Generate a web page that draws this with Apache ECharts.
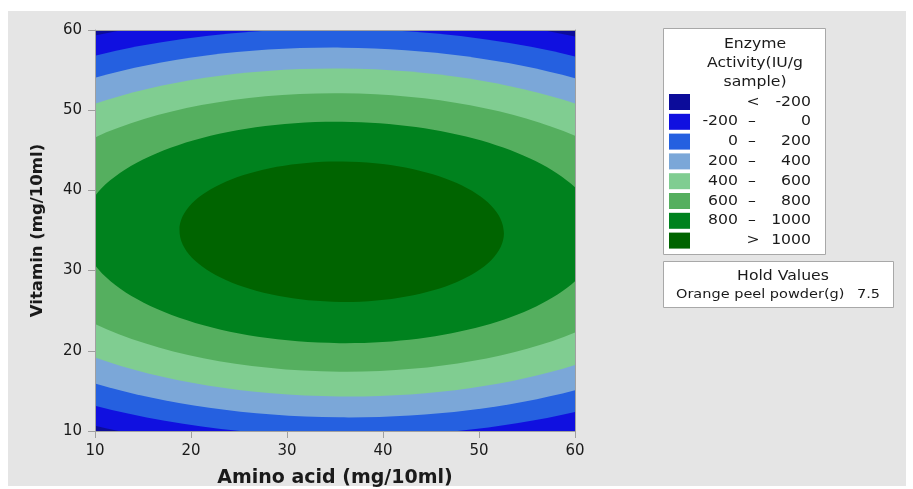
<!DOCTYPE html>
<html>
<head>
<meta charset="utf-8">
<script src="https://cdn.jsdelivr.net/npm/echarts@6/dist/echarts.min.js"></script>
<style>
  html, body { margin: 0; padding: 0; background: #ffffff; }
  #wrap { position: relative; width: 913px; height: 489px; }
  #panel { position: absolute; left: 8px; top: 11px; width: 898px; height: 475px; background: #E5E5E5; }
  #chart { position: absolute; left: 0; top: 0; width: 913px; height: 489px; }
</style>
</head>
<body>
<div id="wrap"><div id="panel"></div><div id="chart"></div></div>
<script>
// Axis tick values
const aminoTicks = [10, 20, 30, 40, 50, 60];
const vitaminTicks = [10, 20, 30, 40, 50, 60];

// Contours of enzyme activity (IU/g sample); each level is a closed ellipse
// around the optimum, given by its centre and half-axes in axis units
const contourLevels = [-200, 0, 200, 400, 600, 800, 1000];
const contourCenterAmino = [35.6, 35.6, 35.6, 35.6, 35.6, 35.6, 35.7];
const contourCenterVitamin = [34.75, 34.75, 34.75, 34.75, 34.75, 34.75, 34.85];
const contourHalfWidth = [54.5, 50.0, 45.5, 40.4, 34.5, 26.95, 16.9];
const contourHalfHeight = [27.55, 25.4, 23.05, 20.45, 17.35, 13.8, 8.75];
const contourTilt = -0.009; // slight slant of the contour axes (radians)

// Band colours from lowest (< -200) to highest (> 1000)
const bandColors = ['#0C0C9A', '#1010E0', '#2560E0', '#7BA7D8', '#80CD91', '#55AF5F', '#00821E', '#006400'];

const legendTitle = ['Enzyme', 'Activity(IU/g', 'sample)'];
const holdTitle = 'Hold Values';
const holdFactor = 'Orange peel powder(g)';
const holdValue = '7.5';

const FONT = '"DejaVu Sans", "Noto Sans", sans-serif';
const TEXT = '#1A1A1A';
const AXIS = '#A0A0A0';
const WIDEN = 1.16; // legend lettering is set slightly wide

const chart = echarts.init(document.getElementById('chart'), null, { renderer: 'canvas' });

const contourData = contourLevels.map((lvl, i) => [
  contourCenterAmino[i], contourCenterVitamin[i], contourHalfWidth[i] * 2, contourHalfHeight[i] * 2, lvl
]);

// Legend panel
const graphics = [];
function label(s, x, y, align, size) {
  graphics.push({
    type: 'text', x: x, y: y, scaleX: WIDEN, silent: true,
    style: { x: 0, y: 0, text: s, textAlign: align, align: align,
             textVerticalAlign: 'middle', verticalAlign: 'middle',
             font: (size || 13.5) + 'px ' + FONT, fill: TEXT }
  });
}
const lgX = 663, lgY = 28, lgW = 162, lgH = 226;
graphics.push({ type: 'rect', shape: { x: lgX + 0.5, y: lgY + 0.5, width: lgW, height: lgH },
  style: { fill: '#ffffff', stroke: '#A8A8A8', lineWidth: 1 }, silent: true });
legendTitle.forEach((t, i) => label(t, 755, 44 + i * 19.4, 'center'));

const rowCount = contourLevels.length + 1;
for (let r = 0; r < rowCount; r++) {
  const cy = 102 + r * 19.8;
  graphics.push({ type: 'rect', shape: { x: 669, y: cy - 8, width: 21, height: 16 },
    style: { fill: bandColors[r] }, silent: true });
  if (r === 0) {
    label('<', 753, cy, 'center');
    label(String(contourLevels[0]), 811, cy, 'right');
  } else if (r === rowCount - 1) {
    label('>', 753, cy, 'center');
    label(String(contourLevels[contourLevels.length - 1]), 811, cy, 'right');
  } else {
    label(String(contourLevels[r - 1]), 738, cy, 'right');
    label('\u2013', 752, cy, 'center');
    label(String(contourLevels[r]), 811, cy, 'right');
  }
}
// Hold values panel
graphics.push({ type: 'rect', shape: { x: 663.5, y: 261.5, width: 230, height: 46 },
  style: { fill: '#ffffff', stroke: '#A8A8A8', lineWidth: 1 }, silent: true });
label(holdTitle, 783, 276, 'center');
label(holdFactor, 676, 295, 'left', 12.5);
label(holdValue, 880, 295, 'right', 12.5);

const axisCommon = {
  type: 'value',
  axisLine: { show: true, onZero: false, lineStyle: { color: AXIS, width: 1 } },
  splitLine: { show: false },
  z: 5
};

chart.setOption({
  animation: false,
  grid: { left: 95, top: 30, width: 480, height: 401, show: true,
          outerBoundsMode: 'none', containLabel: false,
          backgroundColor: bandColors[0], borderWidth: 0 },
  xAxis: [
    Object.assign({}, axisCommon, {
      position: 'bottom',
      min: aminoTicks[0], max: aminoTicks[aminoTicks.length - 1], interval: aminoTicks[1] - aminoTicks[0],
      axisTick: { show: true, length: 7, lineStyle: { color: AXIS } },
      axisLabel: { color: TEXT, fontSize: 15, fontFamily: FONT, margin: 13 },
      name: 'Amino acid (mg/10ml)', nameLocation: 'middle', nameGap: 38,
      nameTextStyle: { color: TEXT, fontSize: 19, fontWeight: 'bold', fontFamily: FONT }
    }),
    Object.assign({}, axisCommon, {
      position: 'top',
      min: aminoTicks[0], max: aminoTicks[aminoTicks.length - 1], interval: aminoTicks[1] - aminoTicks[0],
      axisTick: { show: false }, axisLabel: { show: false }
    })
  ],
  yAxis: [
    Object.assign({}, axisCommon, {
      position: 'left',
      min: vitaminTicks[0], max: vitaminTicks[vitaminTicks.length - 1], interval: vitaminTicks[1] - vitaminTicks[0],
      axisTick: { show: true, length: 7, lineStyle: { color: AXIS } },
      axisLabel: { color: TEXT, fontSize: 15, fontFamily: FONT, margin: 13 },
      name: 'Vitamin (mg/10ml)', nameLocation: 'middle', nameGap: 49,
      nameTextStyle: { color: TEXT, fontSize: 16.5, fontWeight: 'bold', fontFamily: FONT }
    }),
    Object.assign({}, axisCommon, {
      position: 'right',
      min: vitaminTicks[0], max: vitaminTicks[vitaminTicks.length - 1], interval: vitaminTicks[1] - vitaminTicks[0],
      axisTick: { show: false }, axisLabel: { show: false }
    })
  ],
  series: [{
    type: 'custom',
    xAxisIndex: 0,
    yAxisIndex: 0,
    clip: true,
    silent: true,
    data: contourData,
    renderItem: function (params, api) {
      const c = api.coord([api.value(0), api.value(1)]);
      const s = api.size([api.value(2), api.value(3)]);
      return {
        type: 'ellipse',
        x: c[0], y: c[1], rotation: contourTilt,
        shape: { cx: 0, cy: 0, rx: s[0] / 2, ry: s[1] / 2 },
        style: { fill: bandColors[params.dataIndex + 1] }
      };
    }
  }],
  graphic: { elements: graphics }
});
</script>
</body>
</html>
